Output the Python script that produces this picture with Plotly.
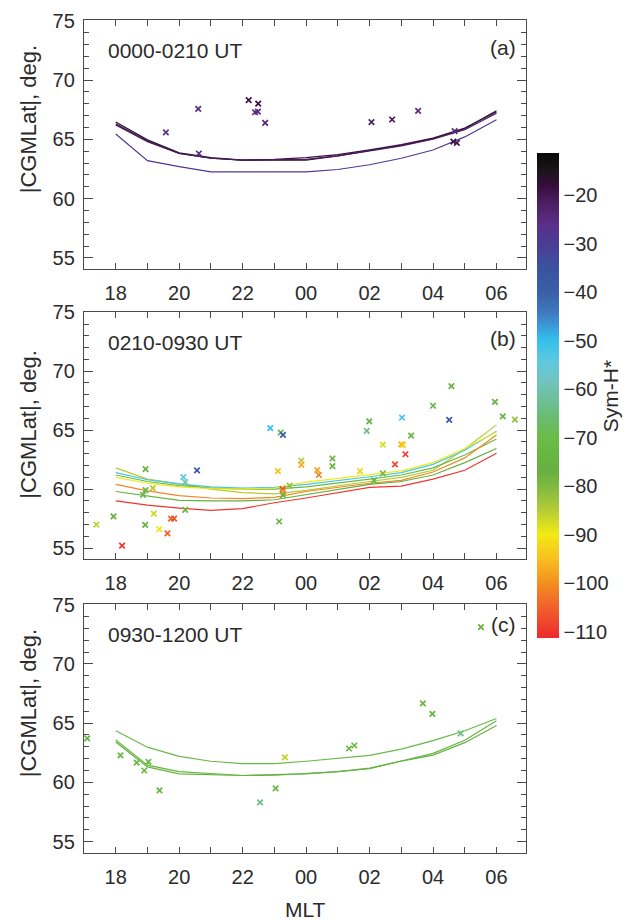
import plotly.graph_objects as go
from plotly.colors import sample_colorscale

# ---------------------------------------------------------------- axes / labels
MLT_TICKS = list(range(18, 31))
MLT_LABELS = ["18", "", "20", "", "22", "", "00", "", "02", "", "04", "", "06"]
HOURS = list(range(18, 31))          # model boundary nodes, MLT (hours past 24 = next day)
SYMH_TICKS = [-110, -100, -90, -80, -70, -60, -50, -40, -30, -20]
SYMH_MIN, SYMH_MAX = -111.4, -11.4
PANEL_TIMES = ["0000-0210 UT", "0210-0930 UT", "0930-1200 UT"]
PANEL_TAGS = ["(a)", "(b)", "(c)"]

# ---------------------------------------------------------------- panel (a)
a_mlt = [19.58, 20.60, 20.62, 22.19, 22.49, 22.39, 22.48, 22.71, 26.06, 26.71, 27.53, 28.68, 28.64, 28.75]
a_lat = [65.58, 67.56, 63.80, 68.30, 68.00, 67.28, 67.33, 66.39, 66.44, 66.67, 67.39, 65.69, 64.81, 64.69]
a_symh = [-26, -25, -25, -19, -19, -24, -25, -24, -22, -20, -25, -25, -19, -20]
a_curve_symh = [-17, -19, -21, -29]
a_curves = [
    [66.45, 64.95, 63.85, 63.45, 63.25, 63.25, 63.25, 63.60, 64.05, 64.50, 65.05, 65.90, 67.40],
    [66.30, 64.85, 63.80, 63.40, 63.25, 63.30, 63.45, 63.70, 64.10, 64.55, 65.10, 65.95, 67.30],
    [66.20, 64.80, 63.80, 63.40, 63.25, 63.25, 63.30, 63.60, 64.00, 64.45, 65.00, 65.80, 67.20],
    [65.45, 63.20, 62.70, 62.25, 62.25, 62.25, 62.25, 62.45, 62.85, 63.40, 64.10, 65.20, 66.65],
]

# ---------------------------------------------------------------- panel (b)
b_mlt = [17.39, 17.93, 18.20, 18.94, 18.94, 18.86, 18.93, 19.17, 19.20, 19.37,
         19.63, 19.74, 19.84, 20.13, 20.19, 20.19, 20.56, 22.87, 23.20, 23.27,
         23.11, 23.15, 23.26, 23.28, 23.27, 23.48, 23.85, 23.85, 24.35, 24.40,
         24.83, 24.83, 25.70, 25.99, 25.91, 26.14, 26.42, 26.42, 26.80, 27.02,
         27.00, 27.05, 27.13, 27.31, 28.00, 28.58, 28.51, 29.95, 30.20, 30.58]
b_lat = [57.00, 57.70, 55.22, 61.70, 59.92, 59.52, 56.98, 60.08, 57.93, 56.62,
         56.25, 57.51, 57.51, 61.03, 60.59, 58.24, 61.59, 65.17, 64.80, 64.60,
         61.53, 57.26, 60.00, 59.80, 59.50, 60.30, 62.43, 62.06, 61.62, 61.20,
         62.60, 61.95, 61.53, 65.75, 64.94, 60.75, 61.34, 63.77, 62.10, 66.06,
         63.80, 63.75, 62.96, 64.53, 67.07, 68.74, 65.87, 67.40, 66.17, 65.90]
b_symh = [-86, -76, -110, -75, -74, -73, -75, -85, -87, -90,
          -105, -104, -107, -53, -60, -74, -38, -50, -72, -38,
          -95, -74, -108, -99, -75, -82, -85, -97, -98, -102,
          -75, -73, -93, -75, -63, -72, -80, -88, -108, -53,
          -97, -93, -110, -74, -75, -75, -38, -75, -74, -82]
b_curve_symh = [-85, -52, -72, -90, -101, -77, -110]
b_curves = [
    [61.80, 60.85, 60.45, 60.00, 59.70, 59.60, 59.90, 60.30, 60.65, 61.00, 61.60, 63.40, 65.45],
    [61.40, 60.80, 60.45, 60.20, 60.10, 60.15, 60.40, 60.70, 61.05, 61.40, 62.10, 63.30, 64.90],
    [61.20, 60.65, 60.30, 60.10, 60.00, 60.00, 60.20, 60.50, 60.85, 61.20, 61.80, 62.90, 64.25],
    [61.00, 60.50, 60.20, 60.05, 60.00, 60.10, 60.60, 60.90, 61.20, 61.55, 62.25, 63.45, 64.85],
    [60.40, 59.85, 59.45, 59.25, 59.20, 59.30, 59.80, 60.15, 60.50, 60.75, 61.45, 62.65, 64.60],
    [59.80, 59.40, 59.05, 59.00, 59.00, 59.10, 59.55, 59.95, 60.40, 60.65, 61.20, 62.25, 63.45],
    [59.00, 58.65, 58.40, 58.20, 58.35, 58.85, 59.25, 59.70, 60.15, 60.25, 60.85, 61.60, 63.05],
]

# ---------------------------------------------------------------- panel (c)
c_mlt = [17.10, 18.15, 18.66, 19.03, 18.90, 19.38, 22.55, 23.04, 23.33, 25.35, 25.52, 27.68, 27.98, 28.87, 29.51]
c_lat = [63.72, 62.28, 61.67, 61.73, 61.00, 59.33, 58.31, 59.50, 62.11, 62.86, 63.11, 66.67, 65.78, 64.14, 73.10]
c_symh = [-76, -72, -73, -72, -73, -74, -64, -72, -86, -73, -72, -78, -74, -65, -76]
c_curve_symh = [-72, -74, -76]
c_curves = [
    [64.36, 62.97, 62.20, 61.78, 61.58, 61.58, 61.78, 62.00, 62.28, 62.80, 63.53, 64.36, 65.39],
    [63.58, 61.45, 60.90, 60.72, 60.58, 60.65, 60.72, 60.90, 61.20, 61.80, 62.45, 63.55, 65.20],
    [63.40, 61.30, 60.72, 60.62, 60.58, 60.60, 60.72, 60.90, 61.15, 61.80, 62.30, 63.35, 64.80],
]

# ---------------------------------------------------------------- Sym-H* colour scale
SCALE_STOPS = [
    (-111.4, "#ee2a2e"), (-104, "#f06a2a"), (-100, "#f39020"), (-95, "#f8c020"),
    (-90, "#f2ea14"), (-85, "#b4cc34"), (-81, "#88bc40"), (-77, "#66b040"),
    (-70, "#6abc48"), (-66, "#6abc70"), (-62, "#6ec09c"), (-58, "#70c4c4"),
    (-54, "#5cc8e0"), (-50, "#34c0ec"), (-47, "#3a98d8"), (-44, "#3e78bc"),
    (-40, "#3a5ea8"), (-35, "#3a52a0"), (-30, "#4c3c94"), (-26, "#5a2e88"),
    (-22, "#4e2066"), (-18.5, "#3a0e40"), (-15, "#1c1418"), (-11.4, "#080808"),
]
COLORSCALE = [[(v - SYMH_MIN) / (SYMH_MAX - SYMH_MIN), c] for v, c in SCALE_STOPS]


def symh_color(v):
    frac = min(max((v - SYMH_MIN) / (SYMH_MAX - SYMH_MIN), 0.0), 1.0)
    return sample_colorscale(COLORSCALE, [frac], colortype="rgb")[0]


# ---------------------------------------------------------------- figure
W, H = 633, 920
M_L, M_R, M_T, M_B = 84, 95, 10, 67
PLOT_H = H - M_T - M_B
PLOT_W = W - M_L - M_R
# panel pixel extents (top, bottom)
PANEL_PX = [(10, 262), (305, 555.7), (601, 852.7)]


def py2paper(py):
    return (H - M_B - py) / PLOT_H


def px2paper(px):
    return (px - M_L) / PLOT_W


fig = go.Figure()
panels = [
    (a_mlt, a_lat, a_symh, a_curve_symh, a_curves),
    (b_mlt, b_lat, b_symh, b_curve_symh, b_curves),
    (c_mlt, c_lat, c_symh, c_curve_symh, c_curves),
]

TXT = "#2b2b2b"
AX = "#4a4a4a"
FONT = "Liberation Sans, Arial, Helvetica, sans-serif"

for i, (mlt, lat, symh, csymh, curves) in enumerate(panels):
    xa = "x" if i == 0 else f"x{i + 1}"
    ya = "y" if i == 0 else f"y{i + 1}"
    for s, vals in zip(csymh, curves):
        fig.add_trace(go.Scatter(
            x=HOURS, y=vals, mode="lines", xaxis=xa, yaxis=ya,
            line=dict(color=symh_color(s), width=1.2), showlegend=False,
            hoverinfo="skip"))
    fig.add_trace(go.Scatter(
        x=mlt, y=lat, mode="markers", xaxis=xa, yaxis=ya, showlegend=False,
        marker=dict(symbol="x-thin-open", size=5.5, color=symh,
                    coloraxis="coloraxis", line=dict(width=1.7))))

axis_common = dict(
    showline=True, linecolor=AX, linewidth=1.4, mirror="ticks",
    ticks="inside", tickcolor=AX, showgrid=False, zeroline=False,
    tickfont=dict(family=FONT, size=20, color=TXT),
)

layout = dict(
    width=W, height=H, autosize=False,
    margin=dict(l=M_L, r=M_R, t=M_T, b=M_B, pad=0),
    paper_bgcolor="white", plot_bgcolor="white",
    font=dict(family=FONT, color=TXT),
    coloraxis=dict(
        colorscale=COLORSCALE, cmin=SYMH_MIN, cmax=SYMH_MAX,
        colorbar=dict(
            x=px2paper(549.4), xanchor="left", xpad=0,
            y=py2paper(390.5), yanchor="middle", ypad=0,
            len=485, lenmode="pixels", thickness=22, thicknessmode="pixels",
            outlinewidth=0, ticks="", tickvals=SYMH_TICKS,
            tickfont=dict(family=FONT, size=20, color=TXT),
            title=dict(text="Sym-H*", side="right",
                       font=dict(family=FONT, size=21, color=TXT)),
        ),
    ),
)

for i, (top, bot) in enumerate(PANEL_PX):
    sfx = "" if i == 0 else str(i + 1)
    layout["xaxis" + sfx] = dict(
        axis_common, domain=[0, 1], anchor="y" + sfx, range=[17.0, 30.93],
        tickvals=MLT_TICKS, ticktext=MLT_LABELS, ticklen=6, tickwidth=1.2,
        ticklabelstandoff=6)
    layout["yaxis" + sfx] = dict(
        axis_common, domain=[py2paper(bot), py2paper(top)], anchor="x" + sfx,
        range=[54.06, 75.06], tickvals=[55, 60, 65, 70, 75], ticklen=9, tickwidth=1.2,
        minor=dict(dtick=1, tick0=55, ticks="inside", ticklen=4.5, tickcolor=AX, tickwidth=1),
        ticklabelstandoff=4)

annotations = []
title_centres = [111, 420, 702]
tag_centres = [38, 332, 622]
for i, (top, bot) in enumerate(PANEL_PX):
    annotations.append(dict(
        text="|CGMLat|, deg.", textangle=-90, xref="paper", yref="paper",
        x=px2paper(27), y=py2paper(title_centres[i]), xanchor="center", yanchor="middle",
        showarrow=False, font=dict(family=FONT, size=22, color=TXT)))
    annotations.append(dict(
        text=PANEL_TIMES[i], xref="paper", yref="paper",
        x=px2paper(107), y=py2paper(top + 31), xanchor="left", yanchor="middle",
        showarrow=False, font=dict(family=FONT, size=21, color=TXT)))
    annotations.append(dict(
        text=PANEL_TAGS[i], xref="paper", yref="paper",
        x=px2paper(530), y=py2paper(tag_centres[i]), xanchor="right", yanchor="middle",
        showarrow=False, font=dict(family=FONT, size=21, color=TXT)))
annotations.append(dict(
    text="MLT", xref="paper", yref="paper", x=px2paper(312), y=py2paper(910),
    xanchor="center", yanchor="middle", showarrow=False,
    font=dict(family=FONT, size=21, color=TXT)))
layout["annotations"] = annotations

fig.update_layout(**layout)
fig.write_html("out.html")
